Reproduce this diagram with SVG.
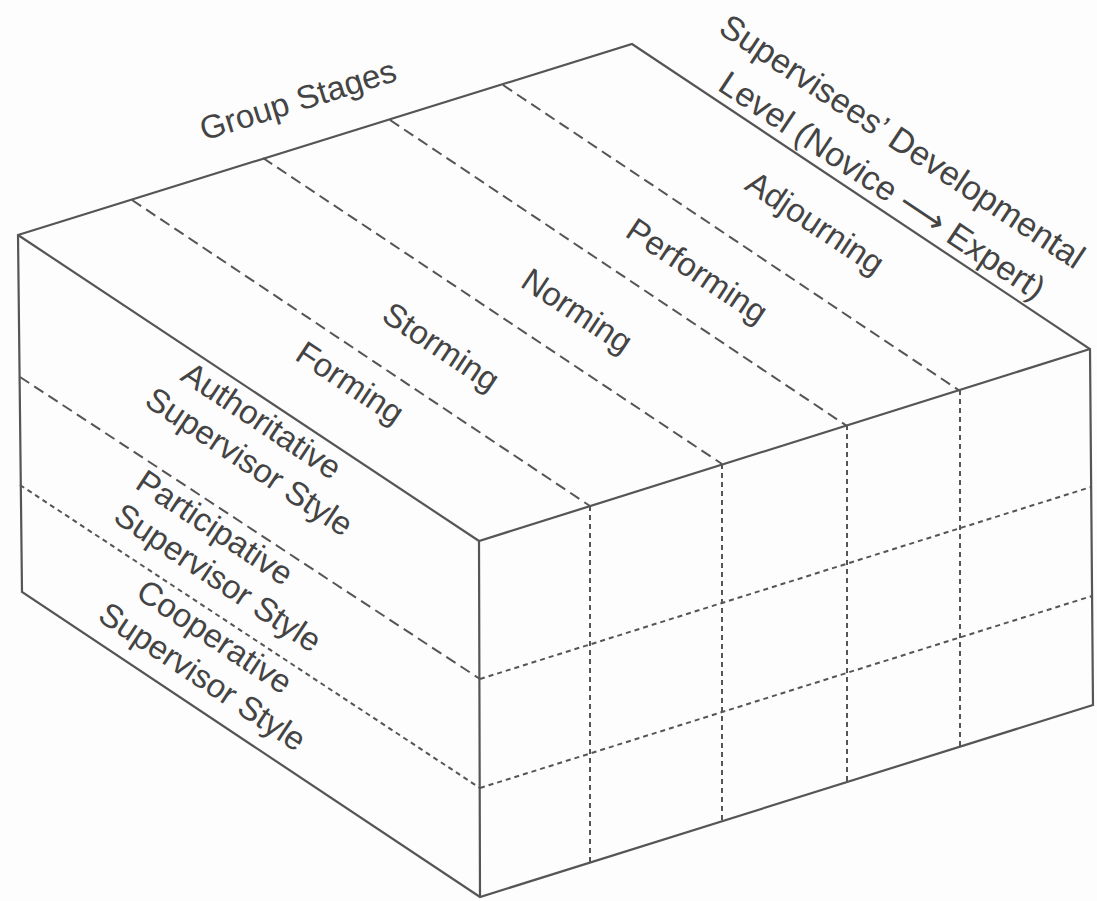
<svg xmlns="http://www.w3.org/2000/svg" width="1097" height="901" viewBox="0 0 1097 901">
<style>
.edge{fill:none;stroke:#555;stroke-width:2.2;stroke-linejoin:miter}
.dash{fill:none;stroke:#555;stroke-width:2;stroke-dasharray:11 6}
.dot{fill:none;stroke:#555;stroke-width:2;stroke-dasharray:5 4}
.lbl{font-family:"Liberation Sans","DejaVu Sans",Arial,sans-serif;font-size:33px;fill:#444;text-anchor:middle}
.big{font-size:34px}
.side{font-family:"Liberation Sans","DejaVu Sans",Arial,sans-serif;font-size:33px;fill:#444;text-anchor:start}
</style>
<rect width="1097" height="901" fill="#fdfdfd"/>
<g id="box">
<path class="edge" d="M18,235 L632,44 L1090,349 L1093,705 L480,897 L22,592 Z"/>
<path class="edge" d="M18,235 L479,541 L1090,349 M479,541 L480,897"/>
</g>
<g id="grid">
<path class="dash" d="M132,200 L590,506 M263,158 L722,464 M390,120 L847,426 M503,85 L960,391"/>
<path class="dash" d="M20,377 L480,679"/>
<path class="dot" d="M20,485 L480,788"/>
<path class="dot" d="M590,506 L590,862 M722,464 L722,821 M847,425 L847,782 M960,390 L960,747"/>
<path class="dot" d="M480,679 L1091,487 M480,788 L1092,596"/>
</g>
<g id="label-group-stages"><text class="lbl" transform="translate(298,100) rotate(-17.3)" y="11">Group Stages</text></g>
<g id="label-level">
<text class="lbl big" transform="translate(902,142) rotate(33.6)" y="11">Supervisees’ Developmental</text>
<text class="lbl big" transform="translate(882,186) rotate(33.6)" y="11">Level (Novice ⟶ Expert)</text>
</g>
<g id="stage-forming"><text class="lbl" transform="translate(350,383) rotate(33.6)" y="11">Forming</text></g>
<g id="stage-storming"><text class="lbl" transform="translate(441,347) rotate(33.6)" y="11">Storming</text></g>
<g id="stage-norming"><text class="lbl" transform="translate(577,311) rotate(33.6)" y="11">Norming</text></g>
<g id="stage-performing"><text class="lbl" transform="translate(697,271) rotate(33.6)" y="11">Performing</text></g>
<g id="stage-adjourning"><text class="lbl" transform="translate(815,223) rotate(33.6)" y="11">Adjourning</text></g>
<g transform="translate(18,235) rotate(33.6)">
<g id="style-authoritative">
<text class="side" x="214" y="31">Authoritative</text>
<text class="side" x="198" y="72">Supervisor Style</text>
</g>
<g id="style-participative">
<text class="side" x="236" y="146">Participative</text>
<text class="side" x="236" y="186">Supervisor Style</text>
</g>
<g id="style-cooperative">
<text class="side" x="297" y="237">Cooperative</text>
<text class="side" x="278" y="277">Supervisor Style</text>
</g>
</g>
</svg>
